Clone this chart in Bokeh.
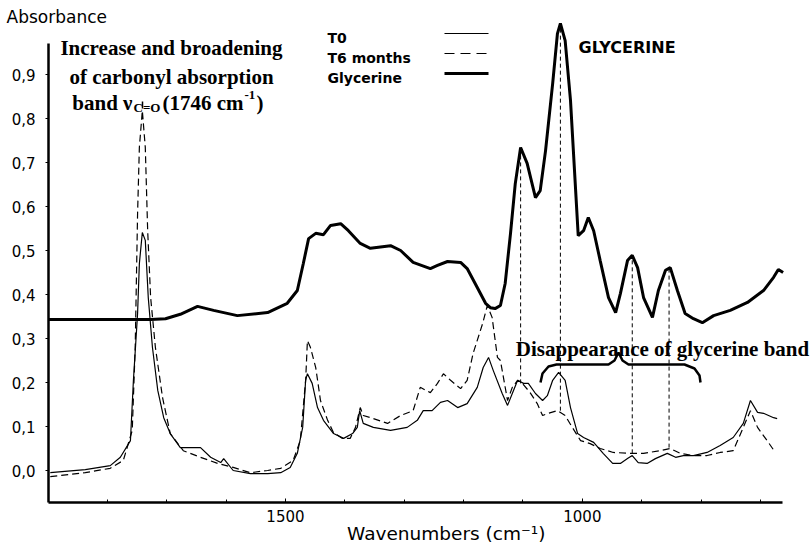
from bokeh.plotting import figure
from bokeh.models import Range1d, FixedTicker, CustomJSTickFormatter, Label, Title
from bokeh.embed import file_html
from bokeh.resources import INLINE

# ---------------- data ----------------
gly_wn = [1899, 1727, 1702, 1677, 1648, 1621, 1581, 1530, 1497, 1480,
          1470, 1461, 1449, 1436, 1424, 1407, 1394, 1374, 1357, 1323,
          1306, 1285, 1256, 1244, 1227, 1205, 1194, 1177, 1163, 1155,
          1147, 1138, 1130, 1121, 1113, 1104, 1093, 1079, 1071, 1062,
          1050, 1042, 1037, 1029, 1020, 1012, 1007, 998, 990, 981,
          970, 956, 944, 936, 924, 916, 907, 897, 882, 872,
          860, 852, 840, 827, 813, 798, 779, 751, 722, 695,
          678, 670, 662]
gly_abs = [0.343, 0.343, 0.345, 0.355, 0.373, 0.364, 0.352, 0.359, 0.380, 0.409,
           0.470, 0.527, 0.539, 0.536, 0.557, 0.561, 0.545, 0.516, 0.505, 0.511,
           0.500, 0.473, 0.459, 0.466, 0.475, 0.473, 0.459, 0.416, 0.380, 0.370,
           0.368, 0.375, 0.425, 0.539, 0.652, 0.734, 0.698, 0.620, 0.636, 0.727,
           0.880, 0.993, 1.016, 0.977, 0.841, 0.652, 0.534, 0.545, 0.575, 0.545,
           0.477, 0.393, 0.359, 0.402, 0.477, 0.489, 0.461, 0.393, 0.348, 0.409,
           0.455, 0.461, 0.409, 0.357, 0.345, 0.336, 0.352, 0.364, 0.382, 0.409,
           0.439, 0.457, 0.450]

t0_wn = [1896, 1837, 1795, 1778, 1761, 1756, 1749, 1746, 1741, 1736,
         1731, 1724, 1715, 1705, 1694, 1677, 1655, 1643, 1626, 1609,
         1604, 1588, 1559, 1530, 1508, 1492, 1480, 1471, 1466, 1463,
         1455, 1446, 1436, 1419, 1402, 1387, 1379, 1375, 1369, 1352,
         1323, 1295, 1278, 1268, 1253, 1239, 1227, 1210, 1194, 1177,
         1167, 1158, 1150, 1135, 1126, 1118, 1109, 1099, 1091, 1079,
         1067, 1059, 1050, 1040, 1029, 1020, 1008, 998, 981, 965,
         949, 936, 924, 916, 906, 891, 877, 857, 843, 830,
         813, 790, 768, 746, 729, 717, 705, 695, 678, 672]
t0_abs = [-0.005, 0.002, 0.011, 0.030, 0.068, 0.205, 0.357, 0.470, 0.541, 0.523,
          0.393, 0.280, 0.182, 0.120, 0.084, 0.052, 0.052, 0.052, 0.030, 0.018,
          0.027, 0.000, -0.007, -0.007, -0.005, 0.007, 0.039, 0.098, 0.205, 0.220,
          0.198, 0.143, 0.114, 0.084, 0.073, 0.084, 0.098, 0.136, 0.107, 0.098,
          0.091, 0.098, 0.114, 0.136, 0.136, 0.155, 0.159, 0.143, 0.152, 0.189,
          0.234, 0.257, 0.227, 0.175, 0.148, 0.175, 0.205, 0.198, 0.198, 0.175,
          0.159, 0.170, 0.205, 0.223, 0.205, 0.143, 0.084, 0.075, 0.064, 0.039,
          0.016, 0.016, 0.027, 0.034, 0.018, 0.016, 0.027, 0.039, 0.030, 0.034,
          0.034, 0.041, 0.057, 0.075, 0.107, 0.159, 0.132, 0.130, 0.120, 0.118]

t6_wn = [1896, 1837, 1795, 1773, 1758, 1753, 1749, 1746, 1741, 1736,
         1732, 1727, 1719, 1707, 1694, 1672, 1643, 1614, 1588, 1559,
         1530, 1508, 1487, 1475, 1466, 1463, 1458, 1449, 1441, 1429,
         1419, 1404, 1391, 1382, 1374, 1369, 1352, 1328, 1306, 1285,
         1273, 1256, 1244, 1234, 1222, 1205, 1194, 1184, 1168, 1160,
         1152, 1143, 1138, 1126, 1118, 1109, 1101, 1088, 1076, 1067,
         1057, 1042, 1029, 1017, 1003, 987, 970, 948, 919, 897,
         869, 852, 835, 813, 790, 768, 746, 729, 717, 705,
         689, 675]
t6_abs = [-0.014, -0.005, 0.005, 0.023, 0.091, 0.280, 0.584, 0.734, 0.818, 0.734,
          0.545, 0.393, 0.280, 0.166, 0.084, 0.045, 0.030, 0.016, 0.007, -0.005,
          0.000, 0.005, 0.023, 0.068, 0.205, 0.295, 0.280, 0.234, 0.159, 0.114,
          0.086, 0.073, 0.073, 0.098, 0.143, 0.125, 0.118, 0.107, 0.125, 0.136,
          0.189, 0.177, 0.198, 0.220, 0.205, 0.186, 0.205, 0.266, 0.334, 0.375,
          0.348, 0.257, 0.250, 0.159, 0.189, 0.205, 0.198, 0.177, 0.152, 0.125,
          0.130, 0.136, 0.125, 0.098, 0.068, 0.061, 0.050, 0.041, 0.039, 0.039,
          0.045, 0.050, 0.039, 0.034, 0.034, 0.041, 0.045, 0.098, 0.136, 0.098,
          0.068, 0.041]

# glycerine bands marked with dashed drop lines
peak_wn = [1104, 1037, 916, 854]
peak_top = [0.734, 1.016, 0.489, 0.461]
peak_bottom = [0.198, 0.136, 0.039, 0.052]

y_ticks = [0.0, 0.1, 0.2, 0.3, 0.4, 0.5, 0.6, 0.7, 0.8, 0.9]
x_ticks = [1500, 1000]
x_minor = [1800, 1700, 1600, 1400, 1300, 1200, 1100, 900, 800, 700]

series_names = ["T0", "T6 months", "Glycerine"]

# ---------------- layout ----------------
W, H = 812, 548
FL, FR, FT, FB = 48, 812, 22, 502      # frame edges in page pixels
AX_END_PX = 782                         # where the x axis line stops
X_START = 1899
PX_PER_WN = 734 / 1236.0
X_END = X_START - (FR - FL) / PX_PER_WN
X_AXIS_END = X_START - (AX_END_PX - FL) / PX_PER_WN
PX_PER_ABS = 440.0
Y_START = (470 - FB) / PX_PER_ABS
Y_END = (470 - FT) / PX_PER_ABS


def D(xp, yp):
    """page pixel position -> data coordinates (for annotations)"""
    x = X_START + (xp - FL) * (X_END - X_START) / (FR - FL)
    y = Y_END - (yp - FT) * (Y_END - Y_START) / (FB - FT)
    return x, y


p = figure(width=W, height=H,
           x_range=Range1d(X_START, X_END), y_range=Range1d(Y_START, Y_END),
           output_backend="svg", toolbar_location=None,
           min_border_left=FL, min_border_right=W - FR,
           min_border_top=FT, min_border_bottom=H - FB)
p.xgrid.visible = False
p.ygrid.visible = False
p.outline_line_color = None
p.background_fill_color = "white"
p.border_fill_color = "white"

p.add_layout(Title(text="Absorbance", align="left", offset=-42, standoff=-8,
                   text_font="DejaVu Sans", text_font_size="17px",
                   text_font_style="normal", text_color="black"), "above")

# x axis
p.xaxis.ticker = FixedTicker(ticks=x_ticks, minor_ticks=x_minor)
p.xaxis.bounds = (X_START, X_AXIS_END)
p.xaxis.axis_line_width = 2.5
p.xaxis.major_tick_in = 4
p.xaxis.major_tick_out = 0
p.xaxis.minor_tick_in = 3
p.xaxis.minor_tick_out = 0
p.xaxis.major_label_text_font = "DejaVu Sans"
p.xaxis.major_label_text_font_size = "15px"
p.xaxis.major_label_text_color = "black"
p.xaxis.major_label_standoff = 7
# leading spaces shift the centred label to where the reference has it
p.xaxis.axis_label = "\u2003\u2002\u2009Wavenumbers (cm\u207b\u00b9)"
p.xaxis.axis_label_text_font = "DejaVu Sans"
p.xaxis.axis_label_text_font_size = "18.5px"
p.xaxis.axis_label_text_font_style = "normal"
p.xaxis.axis_label_text_color = "black"
p.xaxis.axis_label_standoff = -2

# y axis
p.yaxis.ticker = FixedTicker(ticks=y_ticks)
p.yaxis.formatter = CustomJSTickFormatter(code="return tick.toFixed(1).replace('.', ',');")
p.yaxis.bounds = (Y_START, 0.97)
p.yaxis.axis_line_width = 2.5
p.yaxis.major_tick_in = 0
p.yaxis.major_tick_out = 3
p.yaxis.minor_tick_in = 0
p.yaxis.minor_tick_out = 0
p.yaxis.major_label_text_font = "DejaVu Sans"
p.yaxis.major_label_text_font_size = "15px"
p.yaxis.major_label_text_color = "black"
p.yaxis.major_label_standoff = 10

# curves
p.line(gly_wn, gly_abs, line_width=3, line_color="black")
p.line(t0_wn, t0_abs, line_width=1.2, line_color="black")
p.line(t6_wn, t6_abs, line_width=1.2, line_color="black", line_dash="7 4")
p.segment(x0=peak_wn, y0=peak_bottom, x1=peak_wn, y1=peak_top,
          line_width=1, line_color="black", line_dash="4 3")


def txt(xp, yp, s, font, size, bold=True, align="left"):
    x, y = D(xp, yp)
    p.add_layout(Label(x=x, y=y, text=s, text_font=font,
                       text_font_style="bold" if bold else "normal",
                       text_font_size=size, text_align=align,
                       text_baseline="alphabetic", text_color="black"))


# legend
leg_rows = [33, 53, 73]
leg_styles = [dict(line_width=1.2), dict(line_width=1.2, line_dash="10 6"), dict(line_width=3)]
for name, yr, st in zip(series_names, leg_rows, leg_styles):
    xa, ya = D(444, yr)
    xb, _ = D(488, yr)
    p.line([xa, xb], [ya, ya], line_color="black", **st)
    txt(327, yr + 4.5, name, "DejaVu Sans", "14px")

SERIF = "Liberation Serif"
txt(578, 47, "GLYCERINE", "DejaVu Sans", "16px")

txt(171, 47, "Increase and broadening", SERIF, "21px", align="center")
txt(171, 76, "of carbonyl absorption", SERIF, "21px", align="center")
txt(132, 102, "band \u03bd", SERIF, "21px", align="right")
txt(133, 107, "C=O", SERIF, "13px")
txt(162, 102, "(1746 cm", SERIF, "21px")
txt(244, 94, "-1", SERIF, "13px")
txt(256, 102, ")", SERIF, "21px")

txt(662, 348, "Disappearance of glycerine band", SERIF, "21px", align="center")

# brace under the "Disappearance" note
brace_px = [(540, 382), (542, 373), (548, 366), (556, 364), (608, 364), (614, 360),
            (618, 352), (622, 360), (628, 364), (684, 364), (694, 368), (699, 375), (700, 382)]
bx = [D(a, b)[0] for a, b in brace_px]
by = [D(a, b)[1] for a, b in brace_px]
p.line(bx, by, line_width=2.5, line_color="black")

# small pointer under the C=O label
ax0, ay0 = D(142, 101)
_, ay1 = D(142, 108)
p.line([ax0, ax0], [ay0, ay1], line_width=1.5, line_color="black")

open("out.html", "w").write(file_html(p, INLINE))
